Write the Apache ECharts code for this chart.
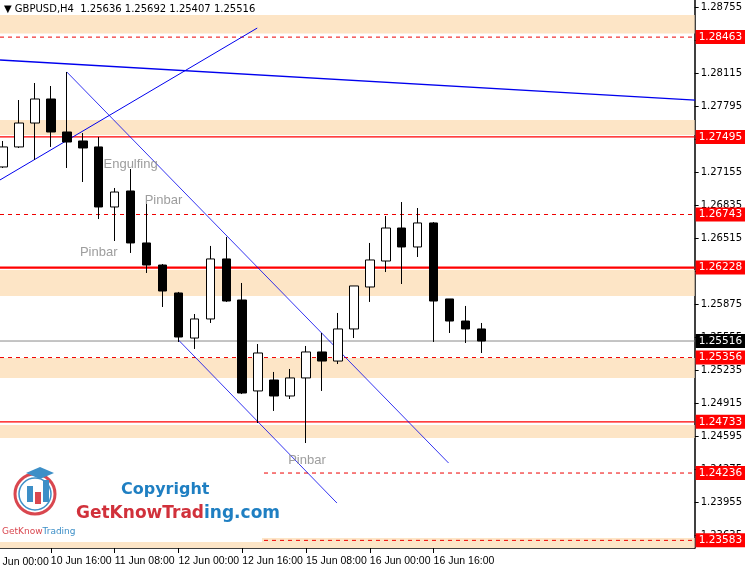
<!DOCTYPE html>
<html><head><meta charset="utf-8">
<script src="https://cdn.jsdelivr.net/npm/echarts@6/dist/echarts.min.js"></script>
<style>html,body{margin:0;padding:0;background:#fff}#c{width:745px;height:570px}</style>
</head><body><div id="c"></div>
<script>
var times=['10 Jun 04:00','10 Jun 08:00','10 Jun 12:00','10 Jun 16:00','10 Jun 20:00','11 Jun 00:00','11 Jun 04:00','11 Jun 08:00','11 Jun 12:00','11 Jun 16:00','11 Jun 20:00','12 Jun 00:00','12 Jun 04:00','12 Jun 08:00','12 Jun 12:00','12 Jun 16:00','12 Jun 20:00','15 Jun 00:00','15 Jun 04:00','15 Jun 08:00','15 Jun 12:00','15 Jun 16:00','15 Jun 20:00','16 Jun 00:00','16 Jun 04:00','16 Jun 08:00','16 Jun 12:00','16 Jun 16:00','16 Jun 20:00','17 Jun 00:00','17 Jun 04:00'];
// [open, close, low, high]
var ohlc=[
[1.27204,1.27398,1.27194,1.27456],[1.27398,1.27630,1.27388,1.27853],[1.27630,1.27863,1.27272,1.28018],
[1.27863,1.27543,1.27398,1.27989],[1.27543,1.27446,1.27194,1.28125],[1.27456,1.27388,1.27058,1.27533],
[1.27398,1.26816,1.26699,1.27495],[1.26816,1.26961,1.26486,1.27000],[1.26971,1.26467,1.26370,1.27184],
[1.26467,1.26253,1.26176,1.26845],[1.26253,1.26001,1.25846,1.26263],[1.25982,1.25555,1.25507,1.25992],
[1.25545,1.25730,1.25439,1.25778],[1.25730,1.26312,1.25691,1.26438],[1.26312,1.25904,1.25895,1.26525],
[1.25914,1.25012,1.25002,1.26079],[1.25032,1.25400,1.24721,1.25487],[1.25138,1.24983,1.24838,1.25216],
[1.24983,1.25158,1.24954,1.25245],[1.25158,1.25410,1.24527,1.25468],[1.25410,1.25322,1.25032,1.25594],
[1.25322,1.25633,1.25293,1.25788],[1.25633,1.26050,1.25545,1.26050],[1.26040,1.26302,1.25895,1.26467],
[1.26292,1.26612,1.26185,1.26728],[1.26612,1.26428,1.26069,1.26864],[1.26428,1.26661,1.26331,1.26806],
[1.26661,1.25904,1.25507,1.26670],[1.25924,1.25710,1.25594,1.25924],[1.25710,1.25633,1.25497,1.25856],
[1.25633,1.25516,1.25400,1.25691]];
var yTicks=[1.28755,1.28435,1.28115,1.27795,1.27475,1.27155,1.26835,1.26515,1.26195,1.25875,1.25555,1.25235,1.24915,1.24595,1.24275,1.23955,1.23635];
var xTickIdx=[3,7,11,15,19,23,27];
var zones=[[1.28678,1.28499],[1.27659,1.27514],[1.26205,1.25953],[1.25352,1.25158],[1.24702,1.24576],[1.23605,1.23509]];
var solidLevels=[1.27495,1.24733];
var thickLevels=[1.26228];
var dashedLevels=[1.28463,1.26743,1.25356,1.24236,1.23583];
var lastPrice=1.25516;
// trend lines: [[bar index, price],[bar index, price]]
var trendLines=[
 {pts:[[-0.19,1.27078],[15.94,1.28551]],w:1},
 {pts:[[-0.19,1.28241],[43.4,1.27853]],w:1.3},
 {pts:[[4,1.28125],[27.94,1.24333]],w:0.8},
 {pts:[[11,1.25526],[20.94,1.23945]],w:0.8}];
var notes=[['Engulfing',8.0,1.27233],['Pinbar',10.06,1.26884],['Pinbar',6.0,1.26379],['Pinbar',19.06,1.24362]];

var XMIN=-0.19,XMAX=43.37;
var YMIN=1.23509,YMAX=1.28823;
var series=[{
 type:'candlestick',barWidth:9,z:5,
 data:ohlc.map(function(d,i){return [i,d[0],d[1],d[2],d[3]];}),
 encode:{x:0,y:[1,2,3,4]},
 itemStyle:{color:'#fff',color0:'#000',borderColor:'#000',borderColor0:'#000',borderWidth:1}
}];
series.push({type:'line',data:[],silent:true,z:0,
 markArea:{silent:true,itemStyle:{color:'#fde5c6'},data:zones.map(function(z){return [{coord:[XMIN,z[0]]},{coord:[XMAX,z[1]]}];})}});
function level(v,color,width,type,bg){
 series.push({type:'line',silent:true,z:2,symbol:'none',data:[[XMIN,v],[XMAX,v]],
  lineStyle:{color:color,width:width,type:type},
  endLabel:{show:true,formatter:v.toFixed(5),distance:1,color:'#fff',backgroundColor:bg,fontFamily:'DejaVu Sans',fontSize:10.5,padding:[2,3,1,3]}});
}
solidLevels.forEach(function(v){level(v,'#f00',1.2,'solid','#f00');});
thickLevels.forEach(function(v){level(v,'#f00',2.2,'solid','#f00');});
dashedLevels.forEach(function(v){level(v,'#e00',1,[4,4],'#f00');});
level(lastPrice,'#8a8a8a',1,'solid','#000');
trendLines.forEach(function(t){series.push({type:'line',data:t.pts,symbol:'none',silent:true,z:3,lineStyle:{color:'#0000ee',width:t.w}});});
series.push({type:'scatter',symbolSize:0,silent:true,z:6,data:notes.map(function(n){return {value:[n[1],n[2]],label:{show:true,formatter:n[0],position:'inside',color:'#858585',fontFamily:'Liberation Sans',fontSize:13}};})});

var chart=echarts.init(document.getElementById('c'));
chart.setOption({
 animation:false,backgroundColor:'#fff',
 grid:{left:0,right:48,top:0,bottom:22},
 xAxis:{type:'value',min:XMIN,max:XMAX,
   axisLine:{onZero:false,lineStyle:{color:'#000',width:1.5}},
   axisTick:{length:5,lineStyle:{color:'#000'},customValues:xTickIdx},
   axisLabel:{align:'left',margin:8,color:'#000',fontFamily:'Liberation Sans',fontSize:10.5,customValues:xTickIdx,formatter:function(v){return times[Math.round(v)]||'';}},
   splitLine:{show:false}},
 yAxis:{type:'value',position:'right',min:YMIN,max:YMAX,
   axisLine:{show:true,onZero:false,lineStyle:{color:'#000',width:1.5}},
   axisTick:{show:true,length:4,lineStyle:{color:'#000'},customValues:yTicks},
   axisLabel:{color:'#000',fontFamily:'DejaVu Sans',fontSize:10,margin:6,customValues:yTicks,formatter:function(v){return v.toFixed(5);}},
   splitLine:{show:false}},
 series:series,
 graphic:[
  {type:'text',left:4,top:4,style:{text:'▼ GBPUSD,H4  1.25636 1.25692 1.25407 1.25516',fill:'#000',font:'10px DejaVu Sans'}},
  {type:'text',left:-12,top:557,style:{text:'10 Jun 00:00',fill:'#000',font:'10.5px Liberation Sans'}},
  {type:'rect',shape:{x:0,y:438,width:262,height:104},style:{fill:'#fff'},z:50},
  {type:'circle',shape:{cx:35,cy:494,r:20},style:{fill:'none',stroke:'#d9474f',lineWidth:3},z:51},
  {type:'circle',shape:{cx:35,cy:494,r:16},style:{fill:'none',stroke:'#3d8fc7',lineWidth:1.5},z:51},
  {type:'rect',shape:{x:27,y:486,width:6,height:16},style:{fill:'#3d8fc7'},z:52},
  {type:'rect',shape:{x:35,y:492,width:6,height:12},style:{fill:'#d9474f'},z:52},
  {type:'rect',shape:{x:43,y:480,width:6,height:22},style:{fill:'#3d8fc7'},z:52},
  {type:'polygon',shape:{points:[[26,473],[40,467],[54,473],[40,479]]},style:{fill:'#3d8fc7'},z:52},
  {type:'text',left:2,top:527,style:{rich:{a:{fill:'#d9474f',font:'9px DejaVu Sans'},b:{fill:'#3d8fc7',font:'9px DejaVu Sans'}},text:'{a|GetKnow}{b|Trading}'},z:52},
  {type:'text',left:121,top:482,style:{text:'Copyright',fill:'#1f7fc2',font:'bold 16px DejaVu Sans'},z:52},
  {type:'text',left:76,top:505,style:{rich:{a:{fill:'#d1313b',font:'bold 17px DejaVu Sans'},b:{fill:'#1f7fc2',font:'bold 17px DejaVu Sans'}},text:'{a|GetKnowTrad}{b|ing.com}'},z:52}
 ]
});
</script></body></html>
